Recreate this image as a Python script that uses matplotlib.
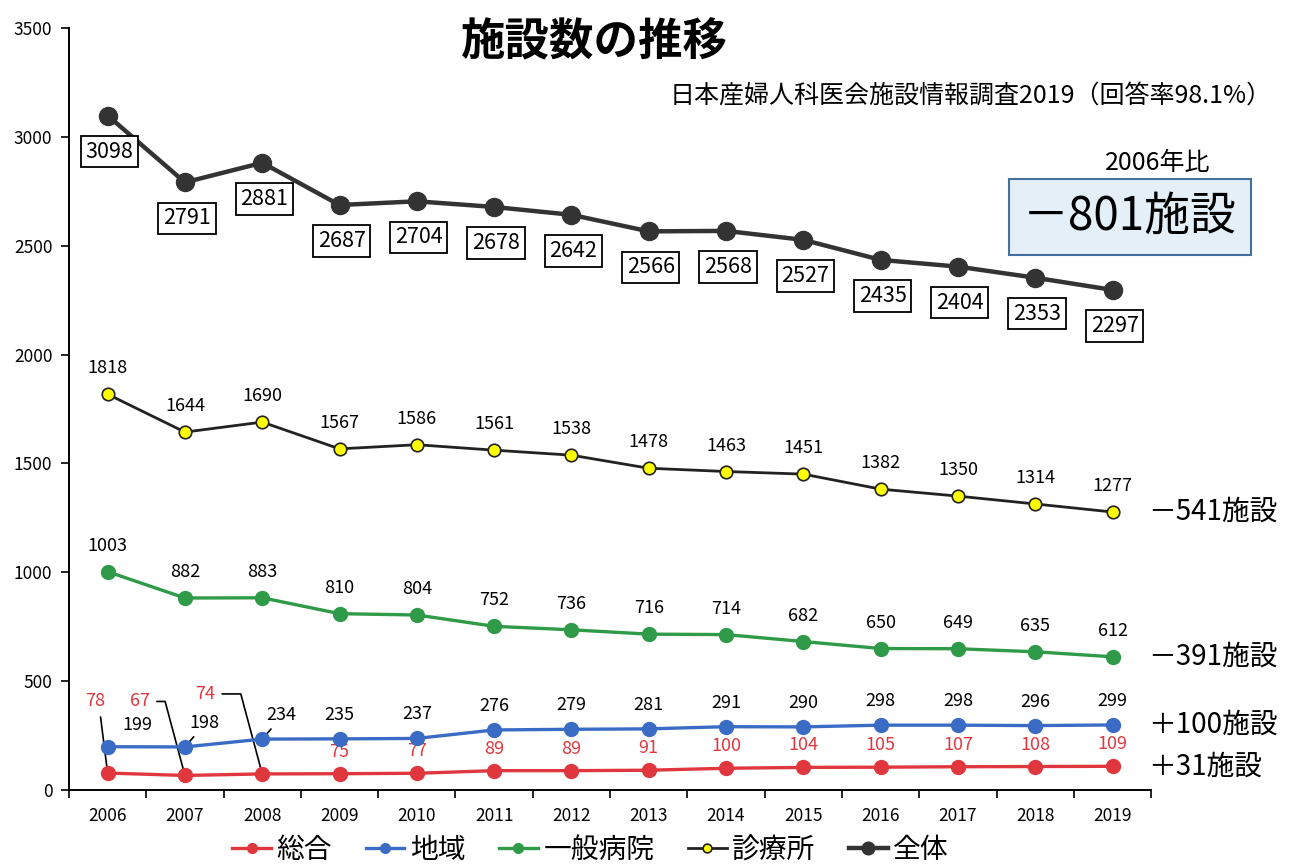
import numpy as np
import matplotlib.pyplot as plt

plt.rcParams['font.family'] = ['Noto Sans CJK JP', 'DejaVu Sans']

# データ
years = ['2006', '2007', '2008', '2009', '2010', '2011', '2012',
         '2013', '2014', '2015', '2016', '2017', '2018', '2019']
sogo = [78, 67, 74, 75, 77, 89, 89, 91, 100, 104, 105, 107, 108, 109]
chiiki = [199, 198, 234, 235, 237, 276, 279, 281, 291, 290, 298, 298, 296, 299]
ippan = [1003, 882, 883, 810, 804, 752, 736, 716, 714, 682, 650, 649, 635, 612]
shinryo = [1818, 1644, 1690, 1567, 1586, 1561, 1538, 1478, 1463, 1451, 1382, 1350, 1314, 1277]
zentai = [3098, 2791, 2881, 2687, 2704, 2678, 2642, 2566, 2568, 2527, 2435, 2404, 2353, 2297]
series_names = ['総合', '地域', '一般病院', '診療所', '全体']

RED = '#e0373f'
BLUE = '#3a6cc6'
GREEN = '#2f9a47'
DARK = '#333333'

x = np.arange(len(years))

fig = plt.figure(figsize=(12.92, 8.64), dpi=100)
ax = fig.add_axes([0.0534, 0.0856, 0.8376, 0.882])

ax.plot(x, sogo, color=RED, lw=2.4, marker='o', ms=10, label=series_names[0], zorder=4)
ax.plot(x, chiiki, color=BLUE, lw=2.4, marker='o', ms=10, label=series_names[1], zorder=4)
ax.plot(x, ippan, color=GREEN, lw=2.4, marker='o', ms=10, label=series_names[2], zorder=4)
ax.plot(x, shinryo, color='#222222', lw=2.0, marker='o', ms=9, mfc='#ffff00',
        mec='#222222', mew=1.2, label=series_names[3], zorder=4)
ax.plot(x, zentai, color=DARK, lw=3.2, marker='o', ms=13, label=series_names[4], zorder=4)

# 軸
ax.set_xlim(-0.5, len(years) - 0.5)
ax.set_ylim(0, 3500)
ax.set_yticks(np.arange(0, 3501, 500))
ax.set_xticks(x)
ax.set_xticklabels(years)
ax.set_xticks(np.arange(-0.5, len(years), 1), minor=True)
ax.tick_params(axis='x', which='major', length=0, labelsize=12.5, pad=12)
ax.tick_params(axis='x', which='minor', length=6, width=1.2)
ax.tick_params(axis='y', length=6, width=1.2, labelsize=12.5, pad=6)
for s in ['top', 'right']:
    ax.spines[s].set_visible(False)
for s in ['left', 'bottom']:
    ax.spines[s].set_linewidth(1.4)

# ラベル：全体（箱）
for i, v in enumerate(zentai):
    ax.annotate(str(v), (i, v), xytext=(2, -36), textcoords='offset pixels',
                ha='center', va='center', fontsize=15.5,
                bbox=dict(boxstyle='square,pad=0.22', fc='white', ec='black', lw=1.3),
                zorder=6)

# ラベル：診療所・一般病院
for vals in (shinryo, ippan):
    for i, v in enumerate(vals):
        ax.annotate(str(v), (i, v), xytext=(0, 26), textcoords='offset pixels',
                    ha='center', va='center', fontsize=13)

# ラベル：地域
for i, v in enumerate(chiiki):
    if i == 0:
        ax.annotate(str(v), (i, v), xytext=(30, 22), textcoords='offset pixels',
                    ha='center', va='center', fontsize=13)
    elif i in (1, 2):
        ax.annotate(str(v), (i, v), xytext=(19, 24), textcoords='offset pixels',
                    ha='center', va='center', fontsize=13,
                    arrowprops=dict(arrowstyle='-', color='black', lw=1.2,
                                    shrinkA=2, shrinkB=2, relpos=(0.3, 0)))
    else:
        ax.annotate(str(v), (i, v), xytext=(0, 24), textcoords='offset pixels',
                    ha='center', va='center', fontsize=13)

# ラベル：総合
for i, v in enumerate(sogo):
    if i == 0:
        ax.annotate(str(v), (i, v), xytext=(-12, 72), textcoords='offset pixels',
                    ha='center', va='center', fontsize=13, color=RED,
                    arrowprops=dict(arrowstyle='-', color='black', lw=1.2,
                                    shrinkA=3, shrinkB=0, relpos=(0.7, 0)))
    elif i in (1, 2):
        dx, dy = (-45, 74) if i == 1 else (-57, 80)
        ax.annotate(str(v), (i, v), xytext=(dx, dy), textcoords='offset pixels',
                    ha='center', va='center', fontsize=13, color=RED,
                    arrowprops=dict(arrowstyle='-', color='black', lw=1.2,
                                    shrinkA=3, shrinkB=0, relpos=(1, 0.5),
                                    connectionstyle='angle,angleA=0,angleB=105,rad=0'))
    else:
        ax.annotate(str(v), (i, v), xytext=(0, 22), textcoords='offset pixels',
                    ha='center', va='center', fontsize=13, color=RED)

# 右側の増減
for vals in (shinryo, ippan, chiiki, sogo):
    d = vals[-1] - vals[0]
    sign = '＋' if d > 0 else '－'
    ax.annotate(f'{sign}{abs(d)}施設', (len(years) - 1, vals[-1]), xytext=(36, 0),
                textcoords='offset pixels', ha='left', va='center', fontsize=20,
                annotation_clip=False)

# 全体の増減ボックス
d_all = zentai[-1] - zentai[0]
fig.text(0.896, 0.811, '2006年比', ha='center', va='center', fontsize=18)
fig.text(0.8745, 0.749, f'－{abs(d_all)}施設', ha='center', va='center', fontsize=33,
         bbox=dict(boxstyle='square,pad=0.3', fc='#e4eff8', ec='#41719c', lw=1.5))

# タイトル
fig.text(0.46, 0.951, '施設数の推移', ha='center', va='center', fontsize=32, fontweight='bold')
fig.text(0.984, 0.888, '日本産婦人科医会施設情報調査2019（回答率98.1%）',
         ha='right', va='center', fontsize=18)

# 凡例
fig.legend(loc='center', bbox_to_anchor=(0.457, 0.016), ncol=5, frameon=False,
           fontsize=20, handlelength=1.4, handletextpad=0.2, columnspacing=1.2,
           markerscale=0.7)

fig.savefig('out.png', dpi=100)
